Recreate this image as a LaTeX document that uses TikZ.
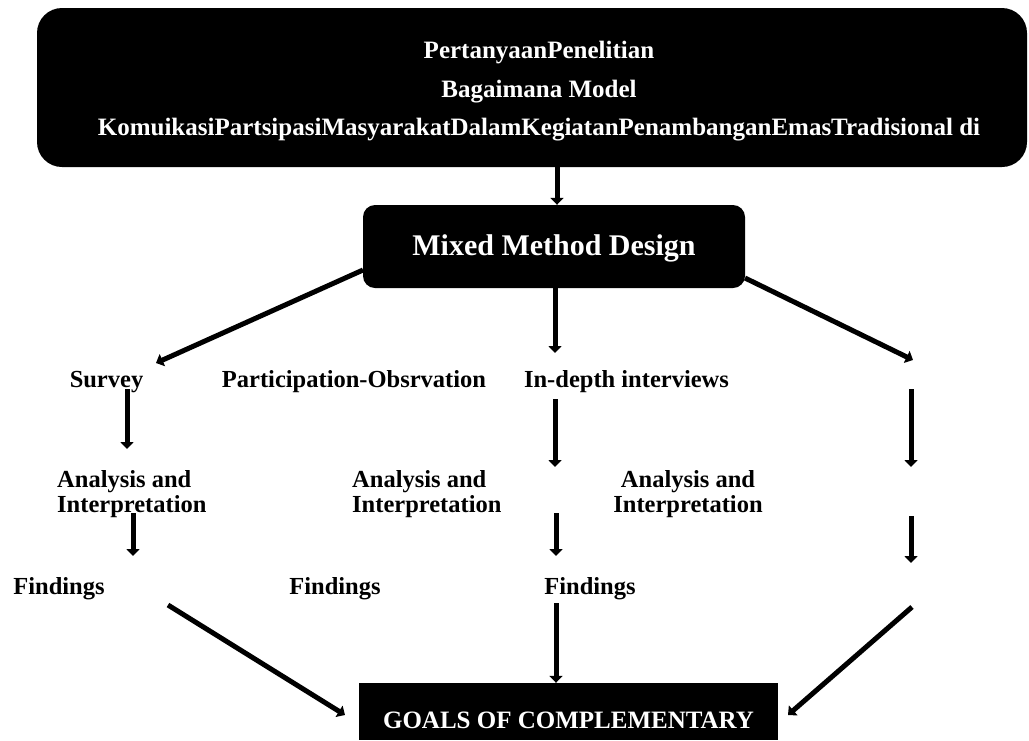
\documentclass[tikz,border=0pt]{standalone}
\usepackage{fontspec}
\setmainfont{Liberation Serif}
\usetikzlibrary{arrows.meta, positioning, calc}

\begin{document}
\begin{tikzpicture}[
  x=1pt, y=-1pt,
  darkbox/.style = {fill=black, text=white, inner sep=0pt},
  txt/.style = {font=\fontsize{24.5}{25}\selectfont\bfseries, align=center, inner sep=0pt},
  arrow/.style = {line width=5pt, -{Triangle[width=13pt, length=7pt]}}
]
  \useasboundingbox (0,0) rectangle (1029,740);

  % Research question
  \node[darkbox, rounded corners=25pt, minimum width=990pt, minimum height=159pt] (top) at (532,87.5) {};
  \node[txt, text=white, font=\fontsize{25}{38.5}\selectfont\bfseries, anchor=north] (question) at (539,41) {
    PertanyaanPenelitian\\
    Bagaimana Model\\
    KomuikasiPartsipasiMasyarakatDalamKegiatanPenambanganEmasTradisional di
  };

  % Design
  \node[darkbox, rounded corners=12pt, minimum width=382pt, text height=50pt, text depth=33pt,
        font=\fontsize{30}{36}\selectfont\bfseries, anchor=base] (mixed) at (554,255) {Mixed Method Design};

  % Methods
  \node[txt, anchor=base] (survey) at (106.5,387) {Survey};
  \node[txt, anchor=base] (partobs) at (354,387) {Participation-Obsrvation};
  \node[txt, anchor=base] (indepth) at (626.5,387) {In-depth interviews};

  % Analysis
  \node[txt, align=left, anchor=north west] (anaA) at (57,470) {Analysis and\\Interpretation};
  \node[txt, align=left, anchor=north west] (anaB) at (352,470) {Analysis and\\Interpretation};
  \node[txt, anchor=north] (anaC) at (688,470) {Analysis and\\Interpretation};

  % Findings
  \node[txt, anchor=base] (findA) at (59,594) {Findings};
  \node[txt, anchor=base] (findB) at (335,594) {Findings};
  \node[txt, anchor=base] (findC) at (590,594) {Findings};

  % Goals
  \node[darkbox, minimum width=419pt, text height=45pt, text depth=12pt,
        font=\fontsize{25}{28}\selectfont\bfseries, anchor=base] (goals) at (568.5,728) {GOALS OF COMPLEMENTARY};

  % question -> design
  \draw[arrow] (top.south -| 557,0) -- (mixed.north -| 557,0);

  % design -> methods
  \coordinate (mixL) at (363,270);
  \coordinate (mixR) at (745,278);
  \coordinate (survIn) at (156,363);
  \coordinate (rightIn) at (913,360);
  \draw[arrow] (mixL) -- (survIn);
  \draw[arrow] (mixed.south -| 555,0) -- (555,353);
  \draw[arrow] (mixR) -- (rightIn);

  % methods -> analysis
  \draw[arrow] (127,389) -- (127,449);
  \draw[arrow] (555,399) -- (555,467);
  \draw[arrow] (911,389) -- (911,467);

  % analysis -> findings
  \draw[arrow] (133,513) -- (133,556);
  \draw[arrow] (556,513) -- (556,556);
  \draw[arrow] (911,516) -- (911,563);

  % findings -> goals
  \coordinate (goalsL) at (345,715);
  \coordinate (goalsR) at (788,715);
  \draw[arrow] (168,605) -- (goalsL);
  \draw[arrow] (556,603) -- (goals.north -| 556,0);
  \draw[arrow] (912,607) -- (goalsR);

\end{tikzpicture}
\end{document}
